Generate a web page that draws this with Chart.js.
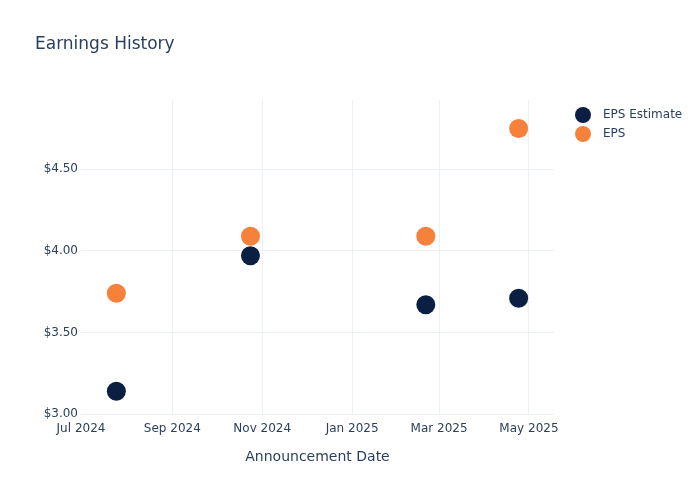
<!DOCTYPE html>
<html>
<head>
<meta charset="utf-8">
<script src="https://cdn.jsdelivr.net/npm/chart.js@4.4.1/dist/chart.umd.min.js"></script>
<style>
  html, body { margin: 0; padding: 0; background: #fff; }
  canvas { display: block; }
</style>
</head>
<body>
<canvas id="chart" width="700" height="500"></canvas>
<script>
// ---- data ----
const announceDates = ["2024-07-25", "2024-10-24", "2025-02-20", "2025-04-24"];
const epsEstimate = [3.14, 3.97, 3.67, 3.71];
const epsActual = [3.74, 4.09, 4.09, 4.75];
const xTickDates = ["2024-07-01", "2024-09-01", "2024-11-01", "2025-01-01", "2025-03-01", "2025-05-01"];
const xTickLabels = ["Jul 2024", "Sep 2024", "Nov 2024", "Jan 2025", "Mar 2025", "May 2025"];
const yTickValues = [3.0, 3.5, 4.0, 4.5];
const xRange = ["2024-07-01", "2025-05-18"];
const yRange = [3.0, 4.925];

const FONT = "'DejaVu Sans', Verdana, sans-serif";
const TEXT = "#2a3f5f";
const GRID = "#ebf0f8";
const NAVY = "#0b1f42";
const ORANGE = "#f5813a";

const ts = d => Date.parse(d + "T00:00:00Z");
const toPoints = vals => vals.map((v, i) => ({ x: ts(announceDates[i]), y: v }));

// title + legend drawn on the canvas
const decor = {
  id: "decor",
  afterDraw(chart) {
    const ctx = chart.ctx;
    ctx.save();
    ctx.fillStyle = TEXT;
    ctx.font = "17px " + FONT;
    ctx.textBaseline = "middle";
    ctx.fillText("Earnings History", 35, 45);

    const items = [["EPS Estimate", NAVY], ["EPS", ORANGE]];
    items.forEach(([label, color], i) => {
      const y = 115 + i * 19;
      ctx.beginPath();
      ctx.arc(583, y, 8, 0, Math.PI * 2);
      ctx.fillStyle = color;
      ctx.fill();
      ctx.fillStyle = TEXT;
      ctx.font = "12px " + FONT;
      ctx.fillText(label, 603, y);
    });
    ctx.restore();
  }
};

new Chart(document.getElementById("chart"), {
  type: "scatter",
  data: {
    datasets: [
      { label: "EPS Estimate", data: toPoints(epsEstimate), backgroundColor: NAVY, borderColor: NAVY, pointRadius: 9.5, pointHoverRadius: 9.5, borderWidth: 0 },
      { label: "EPS", data: toPoints(epsActual), backgroundColor: ORANGE, borderColor: ORANGE, pointRadius: 9.5, pointHoverRadius: 9.5, borderWidth: 0 }
    ]
  },
  options: {
    responsive: false,
    animation: false,
    layout: { padding: { left: 0, right: 146, top: 100, bottom: 0 } },
    plugins: {
      legend: { display: false },
      tooltip: { enabled: false }
    },
    scales: {
      x: {
        type: "linear",
        min: ts(xRange[0]),
        max: ts(xRange[1]),
        afterBuildTicks: axis => { axis.ticks = xTickDates.map(d => ({ value: ts(d) })); },
        afterFit: axis => { axis.height = 86; },
        ticks: {
          autoSkip: false,
          maxRotation: 0,
          padding: 8,
          color: TEXT,
          font: { family: FONT, size: 12 },
          callback: (v, i) => xTickLabels[i]
        },
        grid: {
          drawTicks: false,
          color: ctx => ctx.index === 0 ? "rgba(0,0,0,0)" : GRID,
          lineWidth: 1
        },
        border: { display: false },
        title: {
          display: true,
          text: "Announcement Date",
          color: TEXT,
          font: { family: FONT, size: 14 },
          padding: { top: 12, bottom: 34 }
        }
      },
      y: {
        min: yRange[0],
        max: yRange[1],
        afterBuildTicks: axis => { axis.ticks = yTickValues.map(v => ({ value: v })); },
        afterFit: axis => { axis.width = 81; },
        ticks: {
          padding: 3,
          color: TEXT,
          font: { family: FONT, size: 12 },
          callback: v => "$" + v.toFixed(2)
        },
        grid: { drawTicks: false, color: GRID, lineWidth: 1 },
        border: { display: false }
      }
    }
  },
  plugins: [decor]
});
</script>
</body>
</html>
